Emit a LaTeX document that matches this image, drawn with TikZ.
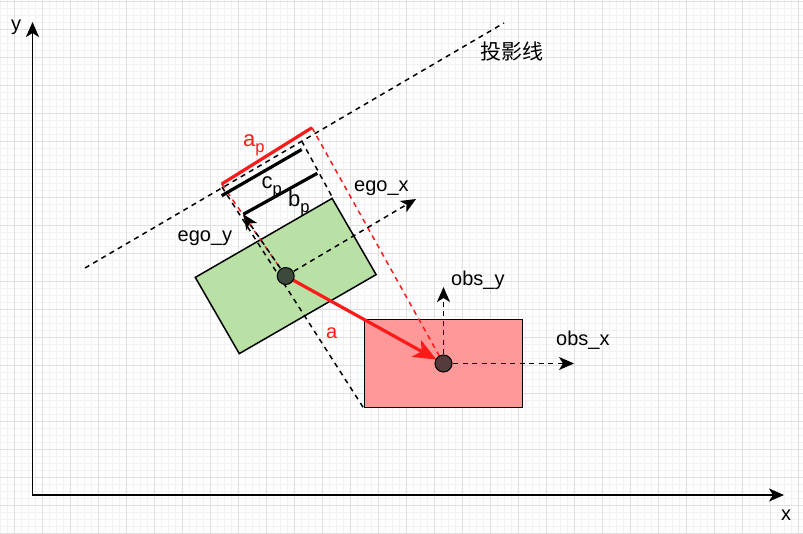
\documentclass[tikz,border=0pt]{standalone}
\usepackage{fontspec}
\setmainfont{Liberation Sans}
\newfontfamily\cjk{Noto Sans CJK SC}
\usetikzlibrary{arrows.meta}

\definecolor{egofill}{HTML}{B9E0A5}
\definecolor{obsfill}{HTML}{FF9999}
\definecolor{egodotfill}{HTML}{3B4A3A}
\definecolor{obsdotfill}{HTML}{553B3B}
\definecolor{projred}{HTML}{FF1A1A}
\definecolor{minorgrid}{HTML}{F2F2F2}
\definecolor{majorgrid}{HTML}{E0E0E0}

\newcommand\subp[1]{\raisebox{-6pt}{\fontsize{16.5}{18}\selectfont #1}}

\tikzset{
  tip/.style={-{Stealth[length=15pt,width=13pt,inset=4pt]}},
  minorline/.style={draw=minorgrid,line width=0.8pt},
  majorline/.style={draw=majorgrid,line width=0.9pt},
  axis/.style={line width=1.6pt,{Stealth[length=15pt,width=13pt,inset=4pt]}-{Stealth[length=15pt,width=13pt,inset=4pt]}},
  box/.style={draw,line width=1.5pt,inner sep=0pt,minimum width=158pt,minimum height=88pt},
  proj/.style={line width=1.5pt,dash pattern=on 5pt off 4.5pt},
  seg/.style={line width=3.2pt},
  dot/.style={circle,draw,line width=1pt,minimum size=17pt,inner sep=0pt},
  lbl/.style={anchor=base west,inner sep=0pt,font=\fontsize{20}{24}\selectfont},
  sublbl/.style={lbl,font=\fontsize{22}{26}\selectfont}
}

\begin{document}
\begin{tikzpicture}[x=1pt,y=-1pt]
  \useasboundingbox (0,0) rectangle (803,533);
  \fill[white] (0,0) rectangle (803,533);
  \foreach \gx in {0,7,...,803} \draw[minorline] (\gx,0) -- (\gx,533);
  \foreach \gy in {1,8,...,533} \draw[minorline] (0,\gy) -- (803,\gy);
  \foreach \gx in {14,42,...,803} \draw[majorline] (\gx,0) -- (\gx,533);
  \foreach \gy in {1,29,...,533} \draw[majorline] (0,\gy) -- (803,\gy);

  \coordinate (origin) at (32.5,495);
  \coordinate (ytip) at (32.5,22);
  \coordinate (xtip) at (784,495);
  \draw[axis] (ytip) -- (origin) -- (xtip);

  \node[box,fill=egofill,rotate=30] (egobox) at (285.7,276) {};
  \node[box,fill=obsfill] (obsbox) at (443.5,363.5) {};

  \coordinate (prA) at (85,268);
  \coordinate (prB) at (504,23);
  \coordinate (pObsBL) at (222,187);
  \coordinate (pEgoTR) at (301.7,141);
  \coordinate (apL) at (221.7,184);
  \coordinate (apR) at (312,127.7);
  \coordinate (cpL) at (221.7,195.7);
  \coordinate (cpR) at (301.7,149.5);
  \coordinate (egoytip) at (243.3,214.3);
  \coordinate (bpR) at (317.3,173.3);
  \coordinate (egoxtip) at (416,199);
  \coordinate (obsytip) at (443.5,287);
  \coordinate (obsxtip) at (574,363.5);

  \draw[proj] (prA) -- (prB);
  \draw[proj] (pObsBL) -- (obsbox.south west);
  \draw[proj] (pEgoTR) -- (egobox.north east);
  \draw[proj,projred] (apL) -- (egobox.center);
  \draw[proj,projred] (apR) -- (obsbox.center);
  \draw[proj,tip] (egobox.center) -- (egoxtip);
  \draw[proj,tip] (egobox.center) -- (egoytip);
  \draw[proj,tip] (obsbox.center) -- (obsytip);
  \draw[proj,tip] (obsbox.center) -- (obsxtip);

  \draw[seg,projred] (apL) -- (apR);
  \draw[seg] (cpL) -- (cpR);
  \draw[seg] (egoytip) -- (bpR);
  \draw[seg,projred,shorten >=8pt,-{Stealth[length=23pt,width=19pt,inset=6pt]}] (egobox.center) -- (obsbox.center);

  \node[dot,fill=egodotfill] (egodot) at (egobox.center) {};
  \node[dot,fill=obsdotfill] (obsdot) at (obsbox.center) {};

  \node[lbl] (ylabel) at (11,30) {y};
  \node[lbl] (xlabel) at (781,520) {x};
  \node[lbl,font=\cjk\fontsize{21}{24}\selectfont] (projlabel) at (480.5,59.5) {投影线};
  \node[sublbl,text=projred] (aplabel) at (243,146.7) {a\subp{p}};
  \node[sublbl] (cplabel) at (261.5,188.3) {c\subp{p}};
  \node[sublbl] (bplabel) at (288,206.7) {b\subp{p}};
  \node[lbl] (egoxlabel) at (354,191.7) {ego\_x};
  \node[lbl] (egoylabel) at (177.5,241.5) {ego\_y};
  \node[lbl] (obsylabel) at (451,285) {obs\_y};
  \node[lbl] (obsxlabel) at (556,345) {obs\_x};
  \node[lbl,text=projred] (alabel) at (326,338.3) {a};
\end{tikzpicture}
\end{document}
